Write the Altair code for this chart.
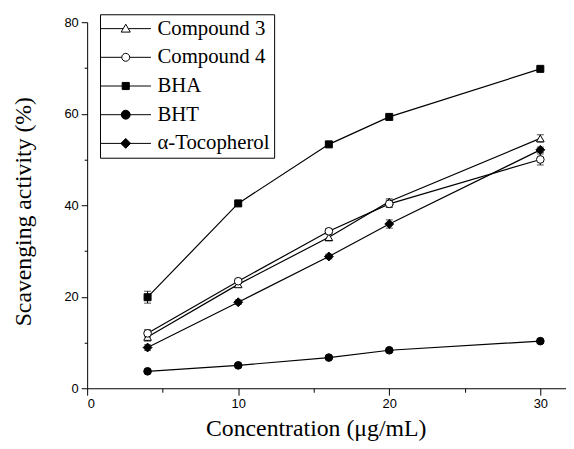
import altair as alt
import pandas as pd

conc = [4, 10, 16, 20, 30]
series_names = ["Compound 3", "Compound 4", "BHA", "BHT", "α-Tocopherol"]
c3 = [11.2, 22.7, 33.0, 40.8, 54.6]
c4 = [12.0, 23.4, 34.3, 40.3, 50.0]
bha = [19.9, 40.4, 53.3, 59.3, 69.8]
bht = [3.7, 5.0, 6.7, 8.3, 10.3]
toco = [8.9, 18.8, 28.8, 35.9, 52.1]
c3_err = [0.9, 0.6, 0.8, 0.6, 0.8]
c4_err = [0.8, 0.5, 0.6, 0.8, 1.2]
bha_err = [1.3, 0.4, 0.4, 0.4, 0.4]
bht_err = [0.3, 0.3, 0.3, 0.3, 0.3]
toco_err = [0.6, 0.5, 0.5, 0.9, 0.6]
markers = ["triangle-up", "circle", "square", "circle", "diamond"]
marker_fill = ["white", "white", "black", "black", "black"]
marker_size = [60, 60, 50, 60, 80]

values = [c3, c4, bha, bht, toco]
errors = [c3_err, c4_err, bha_err, bht_err, toco_err]

rows = []
for name, vals, errs, mk, fc, sz in zip(series_names, values, errors, markers, marker_fill, marker_size):
    for xv, yv, ev in zip(conc, vals, errs):
        rows.append({"series": name, "x": xv, "y": yv, "lo": yv - ev, "hi": yv + ev,
                     "marker": mk, "fillc": fc, "msize": sz})
df = pd.DataFrame(rows)

serif = "Liberation Serif"
sans = "Liberation Sans"

xscale = alt.Scale(domain=[0, 31.7], nice=False, zero=False)
yscale = alt.Scale(domain=[0, 80], nice=False)

xaxis = alt.Axis(
    values=[0, 5, 10, 15, 20, 25, 30],
    labelExpr="datum.value % 10 === 0 ? datum.label : ''",
    tickSize={"condition": {"test": "datum.value % 10 === 0", "value": 7}, "value": 4},
    title="Concentration (μg/mL)",
    titleFont=serif, titleFontSize=24, titleFontWeight="normal",
    titleX=231, titleY=48, titleBaseline="alphabetic",
    labelFont=sans, labelFontSize=13, labelColor="black", labelPadding=2,
    grid=False, domainColor="black", tickColor="black",
)
yaxis = alt.Axis(
    values=[0, 10, 20, 30, 40, 50, 60, 70, 80],
    labelExpr="datum.value % 20 === 0 ? datum.label : ''",
    tickSize={"condition": {"test": "datum.value % 20 === 0", "value": 6}, "value": 3},
    title="Scavenging activity (%)",
    titleFont=serif, titleFontSize=24, titleFontWeight="normal",
    titleX=-64, titleY=191, titleBaseline="middle", titleAlign="center",
    labelFont=sans, labelFontSize=13, labelColor="black", labelPadding=3,
    grid=False, domainColor="black", tickColor="black",
)

X = alt.X("x:Q", scale=xscale, axis=xaxis)
Y = alt.Y("y:Q", scale=yscale, axis=yaxis)

base = alt.Chart(df)

lines = base.mark_line(color="black", strokeWidth=1.2).encode(
    x=X, y=Y, detail="series:N", order="x:Q"
)

err_rule = base.mark_rule(color="black", strokeWidth=1).encode(
    x="x:Q", y="lo:Q", y2="hi:Q"
)
err_lo = base.mark_tick(color="black", orient="horizontal", size=7, thickness=1).encode(
    x="x:Q", y="lo:Q"
)
err_hi = base.mark_tick(color="black", orient="horizontal", size=7, thickness=1).encode(
    x="x:Q", y="hi:Q"
)

points = base.mark_point(filled=True, stroke="black", strokeWidth=1, opacity=1).encode(
    x="x:Q",
    y="y:Q",
    shape=alt.Shape("marker:N", scale=None),
    size=alt.Size("msize:Q", scale=None),
    fill=alt.Fill("fillc:N", scale=None),
)

# legend symbols: line segment with the marker (path units: 10 px)
leg_paths = [
    "M-1.4,0L0.89,0M1.41,0L3.7,0M1.15,-0.45L1.61,0.35L0.69,0.35Z",
    "M-1.4,0L0.75,0M1.55,0L3.7,0M1.55,0A0.4,0.4,0,1,1,0.75,0A0.4,0.4,0,1,1,1.55,0Z",
    "M-1.4,0L3.7,0M0.79,-0.36L1.51,-0.36L1.51,0.36L0.79,0.36Z",
    "M-1.4,0L3.7,0M1.6,0A0.45,0.45,0,1,1,0.7,0A0.45,0.45,0,1,1,1.6,0Z",
    "M-1.4,0L3.7,0M1.15,-0.5L1.65,0L1.15,0.5L0.65,0Z",
]

legend_layer = base.transform_filter("false").mark_point(
    filled=True, strokeWidth=1, size=400
).encode(
    x="x:Q",
    y="y:Q",
    shape=alt.Shape("series:N", scale=alt.Scale(domain=series_names, range=leg_paths),
                    legend=alt.Legend(title=None)),
    fill=alt.Fill("series:N", scale=alt.Scale(domain=series_names, range=marker_fill),
                  legend=alt.Legend(title=None)),
    stroke=alt.Stroke("series:N", scale=alt.Scale(domain=series_names, range=["black"] * 5),
                      legend=alt.Legend(title=None)),
)

chart = alt.layer(lines, err_rule, err_lo, err_hi, points, legend_layer).properties(
    width=484, height=370,
    padding={"left": 80, "top": 12, "right": 0, "bottom": 55},
    autosize="none",
).configure_view(stroke=None).configure_legend(
    orient="none", legendX=13, legendY=-8,
    strokeColor="black", fillColor="white", padding=4,
    labelFont=serif, labelFontSize=21, labelColor="black", labelOffset=33,
    symbolStrokeColor="black", symbolStrokeWidth=1, symbolOpacity=1, symbolSize=400,
    rowPadding=7, cornerRadius=0,
)

chart.save("out.html", embed_options={"renderer": "svg", "actions": False})
